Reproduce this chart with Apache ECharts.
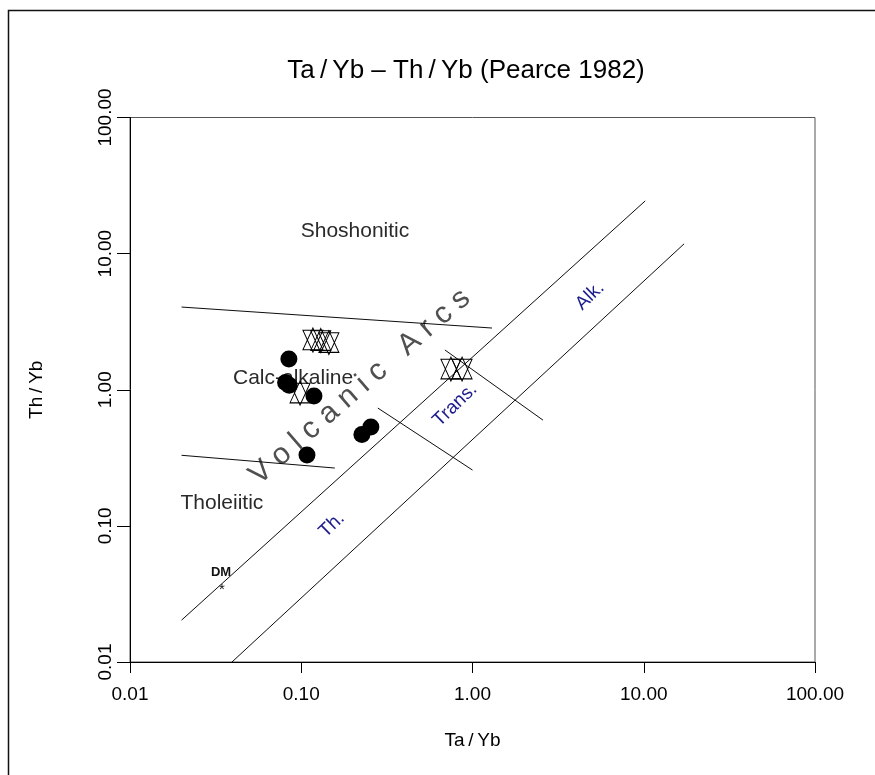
<!DOCTYPE html>
<html><head><meta charset="utf-8">
<script src="https://cdn.jsdelivr.net/npm/echarts@6/dist/echarts.min.js"></script>
<style>html,body{margin:0;padding:0;background:#fff}#c{width:875px;height:775px}</style>
</head><body><div id="c"></div>
<script>
const xTickLabels = ['0.01', '0.10', '1.00', '10.00', '100.00'];
const yTickLabels = ['0.01', '0.10', '1.00', '10.00', '100.00'];
const shoshoniticBoundary = [[0.02, 4.05], [1.30, 2.84]];
const tholeiiticBoundary = [[0.02, 0.33], [0.157, 0.266]];
const upperArcLine = [[0.02, 0.0203], [10.2, 24.4]];
const lowerArcLine = [[0.0394, 0.01], [17.2, 11.8]];
const thTransLine = [[0.28, 0.734], [1.0, 0.257]];
const transAlkLine = [[0.69, 1.96], [2.58, 0.598]];
const circleSamples = [[0.0847, 1.68], [0.081, 1.13], [0.085, 1.08], [0.1186, 0.90], [0.108, 0.331], [0.226, 0.47], [0.255, 0.532]];
const starSamples = [[0.117, 2.32], [0.130, 2.30], [0.145, 2.22], [0.0984, 0.946], [0.748, 1.42], [0.869, 1.42]];
const dmPoint = [[0.0344, 0.0337]];
const dmLabelPos = [0.034, 0.0458];
const greyFieldLabels = [
  { name: 'Shoshonitic', value: [0.206, 14.7] },
  { name: 'Calc-alkaline', value: [0.0896, 1.22] },
  { name: 'Tholeiitic', value: [0.0344, 0.147] }
];
const arcsLabel = { name: 'V o l c a n i c   A r c s', value: [0.220, 1.05] };
const blueFieldLabels = [
  { name: 'Th.', value: [0.151, 0.1014] },
  { name: 'Trans.', value: [0.791, 0.772] },
  { name: 'Alk.', value: [4.85, 4.88] }
];

const FONT = '"Liberation Sans", Arial, sans-serif';
const hexagram = 'path://M10,0 L20,20 L0,20 Z M0,2 L20,2 L10,22 Z';

function lineSeries(data) {
  return { type: 'line', data: data, symbol: 'none', silent: true, z: 3,
    lineStyle: { color: '#000', width: 1, opacity: 0.95 } };
}
function textSeries(items, color, size, rotate, z, weight) {
  return { type: 'scatter', data: items, symbolSize: 1, silent: true, z: z,
    itemStyle: { color: 'rgba(0,0,0,0)', opacity: 1 },
    label: { show: true, position: 'inside', formatter: '{b}', color: color, opacity: 1,
      fontSize: size, fontFamily: FONT, fontWeight: weight || 'normal', rotate: rotate } };
}

const chart = echarts.init(document.getElementById('c'), null, { renderer: 'canvas' });
chart.setOption({
  animation: false,
  backgroundColor: '#fff',
  graphic: [
    { type: 'rect', shape: { x: 8.5, y: 10.5, width: 900, height: 800 },
      style: { fill: 'none', stroke: '#111', lineWidth: 1.5 }, silent: true },
    { type: 'text', x: 466, y: 71, style: { text: 'Ta\u2009/\u2009Yb \u2013 Th\u2009/\u2009Yb (Pearce 1982)',
      fontSize: 26, fontFamily: FONT, fill: '#000', align: 'center', verticalAlign: 'middle' } }
  ],
  grid: { left: 130, right: 60, top: 117.5, bottom: 113, show: true,
    borderColor: '#555', borderWidth: 1, containLabel: false },
  xAxis: {
    type: 'log', logBase: 10, min: 0.01, max: 100,
    name: 'Ta\u2009/\u2009Yb', nameLocation: 'middle', nameGap: 69,
    nameTextStyle: { fontSize: 19, fontFamily: FONT, color: '#000' },
    axisLine: { show: true, onZero: false, lineStyle: { color: '#000', width: 1 } },
    axisTick: { show: true, length: 11, lineStyle: { color: '#000' } },
    axisLabel: { margin: 23, fontSize: 19, fontFamily: FONT, color: '#000',
      formatter: (v, i) => xTickLabels[i] },
    splitLine: { show: false }, minorTick: { show: false }
  },
  yAxis: {
    type: 'log', logBase: 10, min: 0.01, max: 100,
    name: 'Th\u2009/\u2009Yb', nameLocation: 'middle', nameGap: 84, nameRotate: 90,
    nameTextStyle: { fontSize: 19, fontFamily: FONT, color: '#000' },
    axisLine: { show: true, onZero: false, lineStyle: { color: '#000', width: 1 } },
    axisTick: { show: true, length: 13, lineStyle: { color: '#000' } },
    axisLabel: { margin: 15, fontSize: 19, fontFamily: FONT, color: '#000', rotate: 90,
      formatter: (v, i) => yTickLabels[i] },
    splitLine: { show: false }, minorTick: { show: false }
  },
  series: [
    lineSeries(shoshoniticBoundary),
    lineSeries(tholeiiticBoundary),
    lineSeries(upperArcLine),
    lineSeries(lowerArcLine),
    lineSeries(thTransLine),
    lineSeries(transAlkLine),
    textSeries(greyFieldLabels, '#2a2a2a', 21, 0, 2),
    textSeries([arcsLabel], '#505050', 30, 41, 2),
    textSeries(blueFieldLabels, '#1c1c8c', 19, 44, 2),
    textSeries([{ name: 'DM', value: dmLabelPos }], '#111', 13, 0, 2, 'bold'),
    { type: 'scatter', data: dmPoint, symbolSize: 1, silent: true, z: 4,
      itemStyle: { color: 'rgba(0,0,0,0)', opacity: 1 },
      label: { show: true, position: 'inside', formatter: '*', color: '#111', fontSize: 15, fontFamily: FONT } },
    { type: 'scatter', data: circleSamples, symbol: 'circle', symbolSize: 17, silent: true, z: 5,
      itemStyle: { color: '#000', opacity: 1 } },
    { type: 'scatter', data: starSamples, symbol: hexagram, symbolSize: [20, 24], silent: true, z: 6,
      itemStyle: { color: 'rgba(0,0,0,0)', borderColor: '#000', borderWidth: 1, opacity: 1 } }
  ]
});
</script></body></html>
